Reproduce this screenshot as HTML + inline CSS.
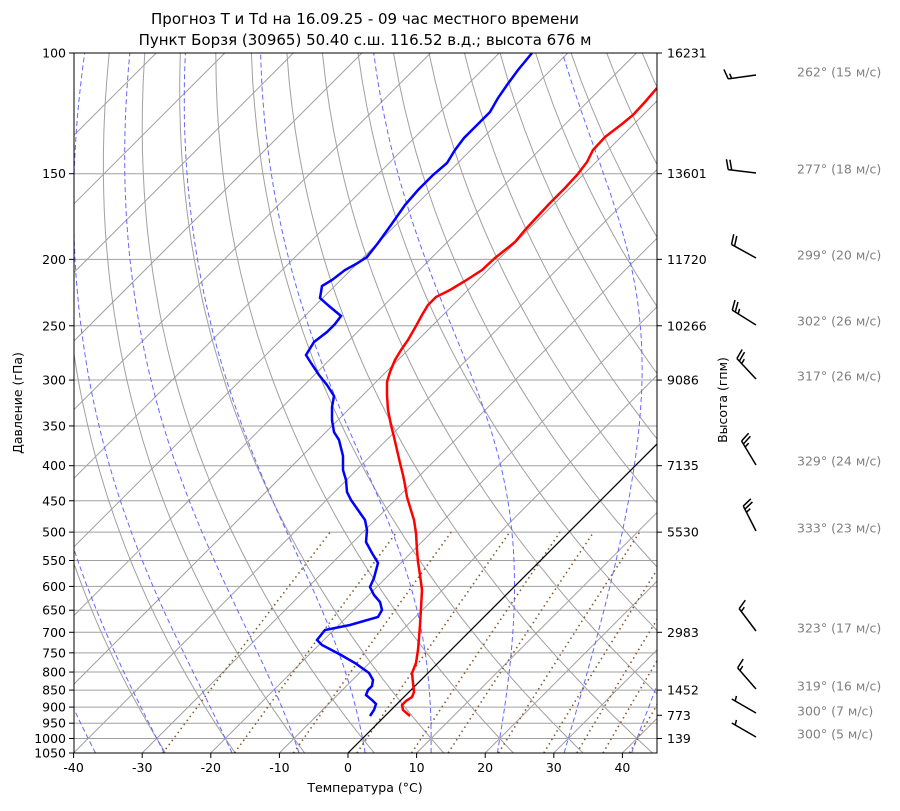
<!DOCTYPE html>
<html><head><meta charset="utf-8"><style>
body{margin:0;background:#fff;font-family:"Liberation Sans","DejaVu Sans",sans-serif}
svg text{font-family:"DejaVu Sans","Liberation Sans",sans-serif}
</style></head><body>
<svg id="s" width="900" height="806" xmlns="http://www.w3.org/2000/svg">
<defs><clipPath id="c"><rect x="74" y="53" width="583" height="700"/></clipPath></defs>
<g id="bg" clip-path="url(#c)"></g>
<g id="fg" clip-path="url(#c)">
<polyline fill="none" stroke="#ff0000" stroke-width="2.5" points="410,716 403,710 402,705 406,701 412,697 414,692 413,683 412,673 416,663 418,650 419,638 420,625 421,608 422,590 420,575 418,562 417,550 416,533 414,520 410,507 407,497 405,485 403,475 400,463 397,450 394,437 391,425 388,410 387,395 387,382 390,372 395,360 401,350 408,340 416,326 422,315 428,305 436,297 450,290 465,281 482,270 495,258 505,250 515,242 525,230 537,217 550,203 565,188 577,175 587,162 593,150 605,137 622,124 633,115 645,102 657,88"/>
<polyline fill="none" stroke="#0000ff" stroke-width="2.5" points="370,716 374,710 376,704 372,700 366,695 368,690 372,686 373,680 369,673 355,663 341,655 322,645 317,640 325,630 350,625 378,617 382,610 380,602 374,595 370,587 374,578 378,563 372,553 366,542 367,530 365,520 358,510 351,500 347,492 346,480 343,470 343,456 339,440 334,432 332,420 332,407 334,396 327,385 319,375 311,363 306,355 314,342 327,332 335,324 341,316 329,306 320,298 322,286 332,280 345,270 356,264 367,257 378,243 391,225 405,205 418,190 433,175 447,163 455,150 464,138 477,125 490,112 498,98 507,85 518,70 532,53"/>
</g>
<rect x="74" y="53" width="583" height="700" fill="none" stroke="#000" stroke-width="1"/>
<g id="ax" font-size="12.5" fill="#000"></g>
<text x="365" y="24" font-size="15" text-anchor="middle">Прогноз T и Td на 16.09.25 - 09 час местного времени</text>
<text x="365" y="45" font-size="15" text-anchor="middle">Пункт Борзя (30965) 50.40 с.ш. 116.52 в.д.; высота 676 м</text>
<text x="365" y="792" font-size="12.5" text-anchor="middle">Температура (°C)</text>
<text transform="translate(22,403) rotate(-90)" font-size="12.5" text-anchor="middle">Давление (гПа)</text>
<text transform="translate(727,400) rotate(-90)" font-size="12.5" text-anchor="middle">Высота (гпм)</text>
<g id="wb"></g>
</svg>
<script>
var NS="http://www.w3.org/2000/svg";
function el(p,t,a,txt){var e=document.createElementNS(NS,t);for(var k in a)e.setAttribute(k,a[k]);if(txt!==undefined)e.textContent=txt;p.appendChild(e);return e;}
var L0=Math.log(100),L1=Math.log(1050);
function Y(p){return 53+(Math.log(p)-L0)/(L1-L0)*700;}
function X(T,p){var y=Y(p);return 348+6.86*T+(753-y);}
var bg=document.getElementById('bg'),ax=document.getElementById('ax');
var plev=[100,150,200,250,300,350,400,450,500,550,600,650,700,750,800,850,900,950,1000,1050];
plev.forEach(function(p){var y=Y(p);el(bg,'line',{x1:74,x2:657,y1:y,y2:y,stroke:'#a0a0a0','stroke-width':1});
el(ax,'line',{x1:69,x2:74,y1:y,y2:y,stroke:'#000'});el(ax,'text',{x:66,y:y+4.5,'text-anchor':'end'},String(p));});
for(var t=-40;t<=40;t+=10){var x=348+6.86*t;el(ax,'line',{x1:x,x2:x,y1:753,y2:758,stroke:'#000'});el(ax,'text',{x:x,y:772,'text-anchor':'middle'},String(t));}
var hts=[[100,'16231'],[150,'13601'],[200,'11720'],[250,'10266'],[300,'9086'],[400,'7135'],[500,'5530'],[700,'2983'],[850,'1452'],[925,'773'],[1000,'139']];
hts.forEach(function(h){var y=Y(h[0]);el(ax,'line',{x1:657,x2:662,y1:y,y2:y,stroke:'#000'});el(ax,'text',{x:667,y:y+4.5},h[1]);});
function pl(pts,st){el(bg,'polyline',Object.assign({fill:'none',points:pts.map(function(q){return q[0].toFixed(1)+','+q[1].toFixed(1)}).join(' ')},st));}
for(var t=-130;t<=50;t+=10){pl([[X(t,1050),Y(1050)],[X(t,100),Y(100)]],{stroke:'#a0a0a0','stroke-width':1});}
var ps=[];for(var p=1050;p>=100;p-=10)ps.push(p);
for(var t0=-30;t0<=200;t0+=10){var th=t0+273.15;pl(ps.map(function(p){return [X(th*Math.pow(p/1000,0.2857)-273.15,p),Y(p)]}),{stroke:'#a0a0a0','stroke-width':1});}
function es(T){return 6.112*Math.exp(17.67*T/(T+243.5));}
for(var t0=-40;t0<=50;t0+=10){var pts=[];var T=t0,p=1000;
 var up=[];var Tu=t0;for(var pp=1000;pp<=1050;pp+=5){up.push([X(Tu,pp),Y(pp)]);var r=0.622*es(Tu)/(pp-es(Tu));var Tk=Tu+273.15;var d=(287*Tk+2.5e6*r)/(pp*(1004+2.5e6*2.5e6*r*0.622/(287*Tk*Tk)));Tu+=d*5;}
 for(p=1000;p>=100;p-=5){pts.push([X(T,p),Y(p)]);var r=0.622*es(T)/(p-es(T));var Tk=T+273.15;var d=(287*Tk+2.5e6*r)/(p*(1004+2.5e6*2.5e6*r*0.622/(287*Tk*Tk)));T-=d*5;}
 pl(up.reverse().concat(pts),{stroke:'#6666ff','stroke-width':1,'stroke-dasharray':'5,3'});}
[0.0004,0.001,0.002,0.004,0.007,0.01,0.016,0.024,0.032,0.04,0.05].forEach(function(w){var pts=[];for(var p=1050;p>=500;p-=10){var e=p*w/(0.622+w);var a=Math.log(e/6.112);var Td=243.5*a/(17.67-a);pts.push([X(Td,p),Y(p)]);}
 pl(pts,{stroke:'#8b5a2b','stroke-width':1.6,'stroke-dasharray':'1.5,3.5'});});
pl([[X(0,1050),Y(1050)],[X(0,100),Y(100)]],{stroke:'#000','stroke-width':1.2});
var wb=document.getElementById('wb');
var W=[[75,262,15,72],[173,277,18,169],[258,299,20,255],[325,302,26,321],[379,317,26,376],[465,329,24,461],[531,333,23,528],[631,323,17,628],[689,319,16,686],[713,300,7,711],[737,300,5,734]];
W.forEach(function(w){var bx=756,by=w[0],a=w[1]*Math.PI/180;var ux=Math.sin(a),uy=-Math.cos(a);var Ls=28;
 var tx=bx+ux*Ls,ty=by+uy*Ls;el(wb,'line',{x1:bx,y1:by,x2:tx,y2:ty,stroke:'#000','stroke-width':1.5});
 var px=-uy,py=ux;
 var s=Math.round(w[2]/5)*5;var pos=0;var fl=Math.floor(s/10),hf=(s%10)>=5?1:0;
 for(var i=0;i<fl;i++){var d=Ls-pos;var sx=bx+ux*d,sy=by+uy*d;el(wb,'line',{x1:sx,y1:sy,x2:sx+ux*3+px*10,y2:sy+uy*3+py*10,stroke:'#000','stroke-width':1.5});pos+=3.5;}
 if(hf){if(fl==0)pos=4;var d=Ls-pos;var sx=bx+ux*d,sy=by+uy*d;el(wb,'line',{x1:sx,y1:sy,x2:sx+ux*1.5+px*5,y2:sy+uy*1.5+py*5,stroke:'#000','stroke-width':1.5});}
 el(wb,'text',{x:797,y:w[3]+4.5,'font-size':'12.5',fill:'#808080'},w[1]+'° ('+w[2]+' м/с)');
});
</script>
</body></html>
